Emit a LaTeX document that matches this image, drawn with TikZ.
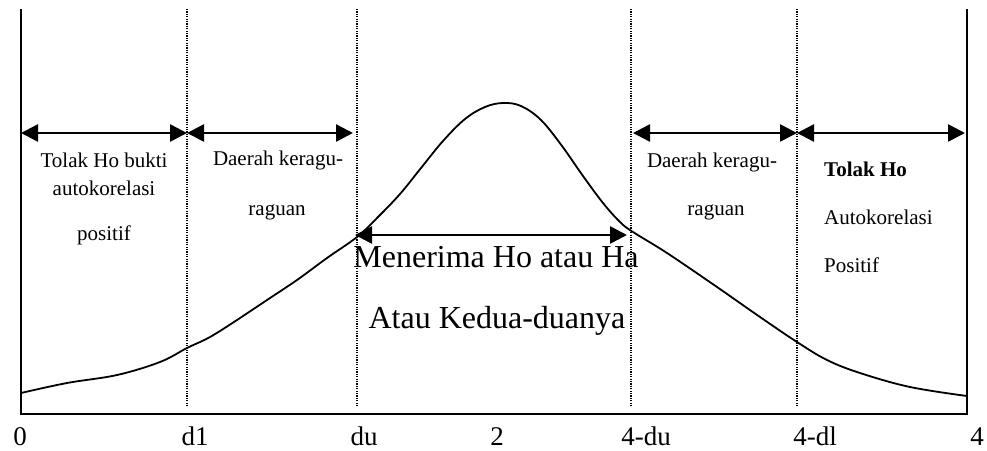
\documentclass[tikz,border=0pt]{standalone}
\usepackage{fontspec}
\setmainfont{Liberation Serif}
\usetikzlibrary{arrows.meta}
\begin{document}
\begin{tikzpicture}[x=1pt,y=-1pt,
  axisline/.style={line width=1.8pt},
  guide/.style={line width=1.2pt,dash pattern=on 1.2pt off 1.2pt},
  dist/.style={line width=1.8pt},
  span/.style={line width=2.6pt,{Triangle[length=17pt,width=17pt]}-{Triangle[length=17pt,width=17pt]}},
  small/.style={font=\fontsize{21}{24}\selectfont,anchor=base,inner sep=0pt},
  mid/.style={font=\fontsize{32}{36}\selectfont,anchor=base,inner sep=0pt},
  tick/.style={font=\fontsize{27}{30}\selectfont,anchor=base,inner sep=0pt}]
\useasboundingbox (0,0) rectangle (987,450);
% frame
\coordinate (tl) at (21,9);
\coordinate (bl) at (21,414);
\coordinate (br) at (967,414);
\coordinate (tr) at (967,9);
\draw[axisline] (tl) -- (bl) -- (br) -- (tr);
% guides
\foreach \n/\x in {d1/187,du/357,udu/631,udl/797}{
  \coordinate (\n top) at (\x,9);
  \coordinate (\n bot) at (\x,406);
  \draw[guide] (\n top) -- (\n bot);
}
% curve
\draw[dist,line join=round] plot[smooth,tension=0.6] coordinates {
 (21,393) (67,383) (117,375) (160,362) (187,348) (210,337) (237,320) (267,300)
 (297,280) (327,258) (357,237) (378,217) (400,194) (421,168) (443,141) (465,119)
 (485,107) (503,103) (521,106) (541,120) (562,146) (583,176) (603,203) (620,222)
 (633,232) (667,253) (717,287) (760,317) (797,342) (827,360) (860,373) (910,387) (967,396)};
% span arrows
\coordinate (a0) at (21,133);
\coordinate (a1) at (187,133);
\coordinate (a2) at (353,133);
\coordinate (a3) at (633,133);
\coordinate (a4) at (797,133);
\coordinate (a5) at (965,133);
\coordinate (m0) at (355,235);
\coordinate (m1) at (627,235);
\draw[span] (a0) -- (a1);
\draw[span] (a1) -- (a2);
\draw[span] (a3) -- (a4);
\draw[span] (a4) -- (a5);
\draw[span] (m0) -- (m1);
% texts left
\node[small] (t1) at (104,167) {Tolak Ho bukti};
\node[small] (t2) at (104,195) {autokorelasi};
\node[small] (t3) at (104,240) {positif};
\node[small] (t4) at (278,165) {Daerah keragu-};
\node[small] (t5) at (277,215) {raguan};
% texts right
\node[small] (t6) at (712,167) {Daerah keragu-};
\node[small] (t7) at (716,215) {raguan};
\node[small,anchor=base west] (t8) at (824,176) {\textbf{Tolak Ho}};
\node[small,anchor=base west] (t9) at (824,224) {Autokorelasi};
\node[small,anchor=base west] (t10) at (824,272) {Positif};
% middle
\node[mid] (m1t) at (496,267) {Menerima Ho atau Ha};
\node[mid] (m2t) at (497,328) {Atau Kedua-duanya};
% ticks
\node[tick] (l0) at (20,445) {0};
\node[tick] (l1) at (195,445) {d1};
\node[tick] (l2) at (364,445) {du};
\node[tick] (l3) at (497,445) {2};
\node[tick] (l4) at (646,445) {4-du};
\node[tick] (l5) at (815,445) {4-dl};
\node[tick] (l6) at (977,445) {4};
\end{tikzpicture}
\end{document}
